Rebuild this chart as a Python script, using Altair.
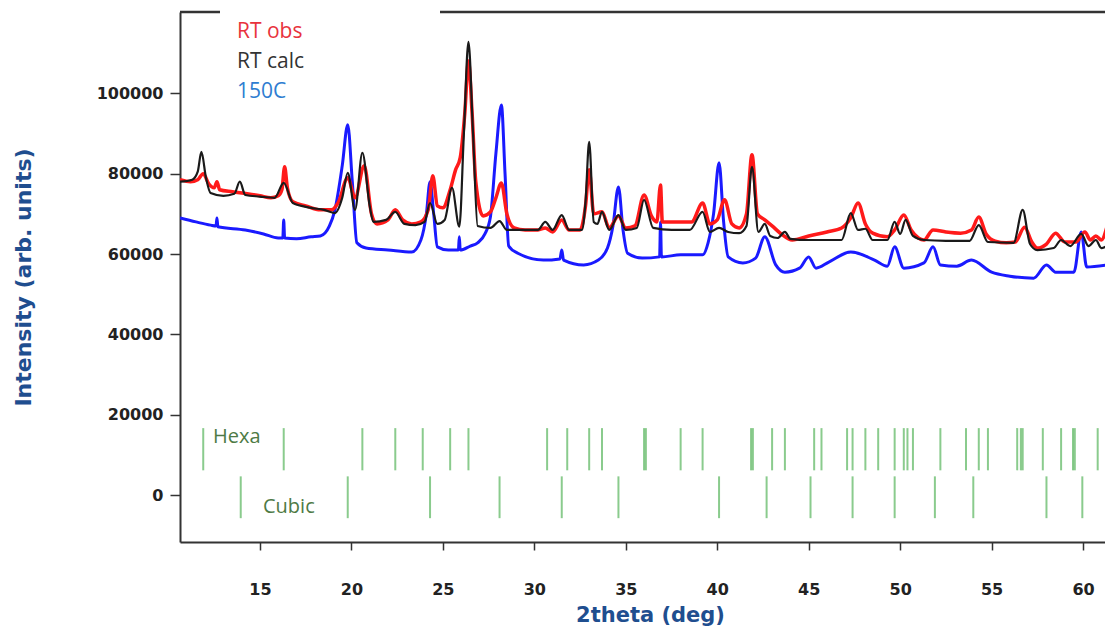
import altair as alt
import pandas as pd

# ---------------- data ----------------
obs_x = [10.63, 11.2, 11.6, 11.9, 12.2, 12.5, 12.65, 12.8, 13.5, 14.3, 15.0, 15.6, 16.0, 16.2, 16.35, 16.5, 16.8,
         17.5, 18.3, 18.9, 19.3, 19.8, 20.2, 20.7, 21.1, 21.4, 22.0, 22.4, 22.8, 23.3, 23.8, 24.2, 24.45, 24.7,
         25.0, 25.4, 25.7, 25.95, 26.2, 26.4, 26.6, 26.8, 27.2, 27.6, 27.9, 28.2, 28.5, 28.9, 29.5, 30.2, 30.6,
         31.0, 31.5, 31.9, 32.5, 32.8, 33.0, 33.25, 33.7, 34.1, 34.6, 35.0, 35.5, 36.0, 36.4, 36.7, 36.9, 37.0,
         37.8, 38.6, 39.2, 39.6, 40.0, 40.4, 40.8, 41.2, 41.6, 41.9, 42.2, 42.6, 43.0, 43.5, 44.1, 45.0, 46.0,
         46.8, 47.3, 47.7, 48.1, 48.5, 49.3, 49.7, 50.2, 50.6, 51.0, 51.3, 51.8, 52.5, 53.3, 53.9, 54.3, 54.7,
         55.2, 55.8, 56.3, 56.8, 57.2, 57.5, 58.0, 58.5, 59.0, 59.6, 60.1, 60.4, 60.7, 61.0, 61.3]
obs_y = [78500, 78000, 78500, 80000, 77500, 76500, 78000, 76000, 75500, 75000, 74500, 74000, 74500, 76000, 81700, 76500, 73000,
         72000, 71000, 71000, 73000, 79000, 74000, 82000, 70000, 67500, 68500, 71000, 68500, 67500, 68000, 71000, 79500, 72000,
         71500, 76000, 81000, 84000, 95000, 108000, 95000, 78000, 69500, 70500, 74000, 77700, 70000, 66500, 66000, 66000, 66500,
         65500, 68500, 66000, 66000, 72000, 81000, 70000, 70500, 66500, 69500, 66500, 67000, 74700, 69500, 68000, 77200, 68000,
         68000, 68000, 72700, 67500, 68500, 73500, 67500, 66500, 70000, 84700, 70000, 68500, 67000, 65000, 63500, 64500, 65500,
         66500, 69000, 72700, 67500, 65200, 64300, 66000, 69700, 66000, 64000, 63500, 66000, 65500, 65200, 66000, 69200, 65000,
         63200, 62800, 63000, 66700, 63000, 61500, 62500, 65200, 63000, 63000, 65500, 63500, 64500, 63500, 66700]

calc_x = [10.63, 11.3, 11.6, 11.8, 12.05, 12.3, 13.0, 13.6, 13.9, 14.2, 15.0, 15.8, 16.3, 16.8, 17.8, 18.5, 19.1, 19.5,
          19.8, 20.2, 20.6, 21.0, 21.2, 21.9, 22.4, 22.9, 23.5, 24.0, 24.3, 24.7, 25.1, 25.5, 25.9, 26.15, 26.4, 26.65,
          26.9, 27.6, 28.1, 28.5, 30.2, 30.6, 31.0, 31.5, 31.9, 32.6, 32.8, 33.0, 33.25, 33.45, 33.7, 34.1, 34.6, 35.0,
          35.6, 36.0, 36.5, 37.5, 38.5, 39.2, 39.6, 40.1, 40.6, 41.2, 41.6, 41.9, 42.25, 42.6, 42.9, 43.3, 43.7, 44.0,
          45.0, 46.8, 47.3, 47.7, 48.1, 48.5, 49.3, 49.7, 50.0, 50.3, 50.7, 51.3, 52.5, 53.8, 54.3, 54.8, 56.2, 56.7,
          57.1, 57.5, 58.4, 58.8, 59.3, 59.9, 60.3, 60.7, 61.0, 61.3]
calc_y = [78000, 78500, 80500, 85400, 79000, 75200, 74500, 75000, 78000, 74700, 74300, 74000, 77700, 72700, 71500, 71000, 70200, 74000,
          80200, 71000, 85200, 72000, 68000, 68500, 70500, 67500, 67200, 68000, 72700, 67500, 68500, 76500, 66800, 90000, 112800, 90000,
          67000, 66500, 68200, 66000, 66000, 68000, 66000, 69700, 66000, 66000, 73000, 87900, 68000, 67500, 70500, 66000, 69700, 66000,
          66500, 73500, 66500, 66000, 66000, 70500, 65500, 66500, 65500, 65200, 67000, 81700, 65500, 67500, 64500, 64000, 65500, 63800,
          63500, 63500, 70200, 66000, 66300, 63500, 63500, 68000, 65000, 68500, 64500, 63500, 63300, 63300, 67200, 63000, 62800, 71000,
          62500, 61000, 61500, 63500, 62000, 65000, 62000, 63500, 61500, 62000]

hot_x = [10.63, 11.5, 12.3, 12.6, 12.65, 12.7, 14.2, 15.2, 16.0, 16.25, 16.3, 16.35, 17.0, 17.8, 18.3, 18.8, 19.1, 19.5,
         19.8, 20.05, 20.3, 20.8, 22.0, 23.3, 23.8, 24.1, 24.3, 24.5, 24.7, 25.3, 25.85, 25.9, 25.95, 26.5, 26.9, 27.3,
         27.6, 27.9, 28.2, 28.4, 28.6, 29.1, 30.5, 31.4, 31.5, 31.6, 32.7, 33.5, 34.0, 34.3, 34.6, 34.85, 35.1, 35.9,
         36.85, 36.9, 36.95, 38.0, 39.2, 39.5, 39.8, 40.1, 40.35, 40.6, 41.4, 42.1, 42.6, 43.2, 43.7, 44.5, 45.0, 45.4,
         46.1, 47.3, 48.6, 49.3, 49.7, 50.2, 51.3, 51.8, 52.2, 53.1, 53.9, 55.0, 56.0, 57.3, 58.0, 58.5, 59.5, 59.9,
         60.2, 61.3]
hot_y = [69000, 68000, 67200, 67000, 69000, 66800, 66000, 65000, 64000, 64000, 68500, 64000, 63800, 64300, 64500, 67000, 71000, 82000,
         92200, 78000, 62800, 61500, 61000, 60500, 63500, 70000, 78000, 70000, 61800, 61000, 61000, 64300, 61000, 62000, 62800, 65000,
         69200, 85000, 97100, 80000, 62000, 60200, 58500, 58800, 61000, 58500, 57300, 58500, 61500, 67000, 76700, 66000, 60200, 59000,
         59300, 68000, 59300, 59800, 59800, 62800, 70000, 82700, 68000, 59300, 57800, 59000, 64300, 57300, 55500, 56500, 59300, 56500,
         58000, 60500, 58500, 57000, 61800, 56500, 57800, 61800, 57300, 57000, 58500, 55500, 54500, 54000, 57300, 55500, 55500, 65500,
         56800, 57300]

hexa_pos = [11.9, 16.3, 20.6, 22.4, 23.9, 25.4, 26.4, 30.7, 31.8, 33.0, 33.7, 36.0, 36.1, 38.0, 39.2, 41.85, 41.95,
            43.0, 43.7, 45.3, 45.7, 47.1, 47.4, 48.1, 48.8, 49.7, 50.2, 50.4, 50.7, 52.2, 53.6, 54.3, 54.8, 56.4,
            56.6, 56.7, 57.8, 58.8, 59.45, 59.55, 60.8, 61.6]
cubic_pos = [13.95, 19.8, 24.3, 28.1, 31.5, 34.6, 40.1, 42.7, 45.1, 47.4, 49.7, 51.9, 54.0, 58.0, 59.96]

legend_labels = ["RT obs", "RT calc", "150C"]
phase_labels = ["Hexa", "Cubic"]
x_ticks = [15, 20, 25, 30, 35, 40, 45, 50, 55, 60]
y_ticks = [0, 20000, 40000, 60000, 80000, 100000]

# ---------------- chart ----------------
W, H = 925, 530
xs = alt.Scale(domain=[10.63, 61.2], nice=False, zero=False)
ys = alt.Scale(domain=[-11630, 120220], nice=False, zero=False)
AX_FONT = "DejaVu Sans"

x_axis = alt.Axis(values=x_ticks, title="2theta (deg)", grid=False, tickSize=8, labelPadding=31,
                  labelFont=AX_FONT, labelFontWeight="bold", labelFontSize=16, labelColor="#222",
                  titleFont=AX_FONT, titleFontWeight="bold", titleFontSize=21, titleColor="#1f4e8f",
                  titleX=470, titleY=73, titleBaseline="middle", titleAlign="center",
                  domainColor="#333", domainWidth=2, tickColor="#333", tickWidth=1.5)
y_axis = alt.Axis(values=y_ticks, format="d", title="Intensity (arb. units)", grid=False, tickSize=10, labelPadding=7,
                  labelFont=AX_FONT, labelFontWeight="bold", labelFontSize=16, labelColor="#222",
                  titleFont=AX_FONT, titleFontWeight="bold", titleFontSize=22, titleColor="#1f4e8f",
                  titleAngle=270, titleX=-157, titleY=H / 2, titleBaseline="middle", titleAlign="center",
                  domainColor="#333", domainWidth=2, tickColor="#333", tickWidth=1.5)

def series(xv, yv):
    return pd.DataFrame({"x": xv, "y": yv})

hot = alt.Chart(series(hot_x, hot_y)).mark_line(color="#1a1aff", strokeWidth=3, clip=True, interpolate="monotone").encode(
    x=alt.X("x:Q", scale=xs, axis=x_axis), y=alt.Y("y:Q", scale=ys, axis=y_axis))
obs = alt.Chart(series(obs_x, obs_y)).mark_line(color="#ff1a1a", strokeWidth=3.5, clip=True, interpolate="monotone").encode(
    x=alt.X("x:Q", scale=xs), y=alt.Y("y:Q", scale=ys))
calc = alt.Chart(series(calc_x, calc_y)).mark_line(color="#1a1a1a", strokeWidth=2.2, clip=True, interpolate="monotone").encode(
    x=alt.X("x:Q", scale=xs), y=alt.Y("y:Q", scale=ys))

hexa = alt.Chart(pd.DataFrame({"x": hexa_pos})).mark_rule(color="#4caf50", strokeWidth=2, opacity=0.65, clip=True).encode(
    x=alt.X("x:Q", scale=xs), y=alt.datum(16700, scale=ys), y2=alt.datum(6200))
cubic = alt.Chart(pd.DataFrame({"x": cubic_pos})).mark_rule(color="#4caf50", strokeWidth=2, opacity=0.65, clip=True).encode(
    x=alt.X("x:Q", scale=xs), y=alt.datum(4700, scale=ys), y2=alt.datum(-5700))

def label(text, x, y, color, size=21):
    return alt.Chart(pd.DataFrame({"t": [text]})).mark_text(
        align="left", baseline="middle", font="Open Sans", fontSize=size, color=color).encode(
        x=alt.value(x), y=alt.value(y), text="t:N")

leg = [label(legend_labels[0], 57, 20, "#e8323c"),
       label(legend_labels[1], 57, 50, "#333333"),
       label(legend_labels[2], 57, 80, "#2e7dd1")]
phase = [label(phase_labels[0], 33, 425, "#4e7a45", 20),
         label(phase_labels[1], 83, 495, "#4e7a45", 20)]

one = pd.DataFrame({"a": [0]})
top1 = alt.Chart(one).mark_rule(color="#333", strokeWidth=2.5).encode(x=alt.value(0), x2=alt.value(40), y=alt.value(0))
top2 = alt.Chart(one).mark_rule(color="#333", strokeWidth=2.5).encode(x=alt.value(260), x2=alt.value(W), y=alt.value(0))

chart = alt.layer(hot, obs, calc, hexa, cubic, *leg, *phase, top1, top2).properties(
    width=W, height=H,
    padding={"left": 172, "top": 4, "right": 0, "bottom": 86},
    autosize=alt.AutoSizeParams(type="none"),
    background="white",
).configure_view(stroke=None)

chart.save("out.html", embed_options={"renderer": "svg", "actions": False})
